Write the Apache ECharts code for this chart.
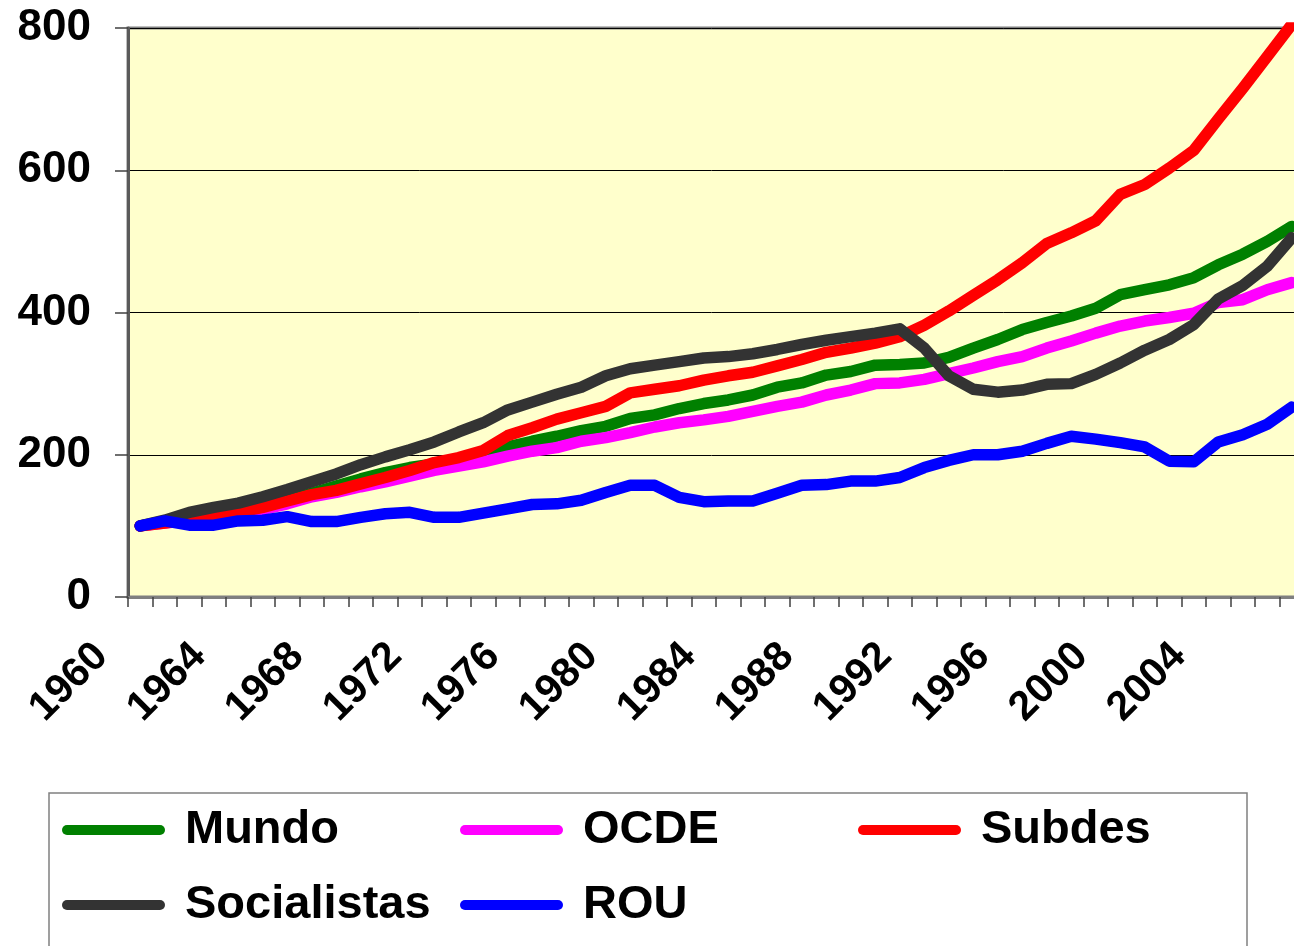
<!DOCTYPE html>
<html>
<head>
<meta charset="utf-8">
<title>Mundo, OCDE, Subdes, Socialistas, ROU</title>
<script src="https://cdn.jsdelivr.net/npm/echarts@6/dist/echarts.min.js"></script>
<style>
  html, body { margin: 0; padding: 0; background: #fff; }
  #chart { width: 1294px; height: 946px; }
</style>
</head>
<body>
<div id="chart"></div>
<script>
// indice, 1960 = 100
const years = [
  '1960', '1961', '1962', '1963', '1964', '1965', '1966', '1967', '1968', '1969',
  '1970', '1971', '1972', '1973', '1974', '1975', '1976', '1977', '1978', '1979',
  '1980', '1981', '1982', '1983', '1984', '1985', '1986', '1987', '1988', '1989',
  '1990', '1991', '1992', '1993', '1994', '1995', '1996', '1997', '1998', '1999',
  '2000', '2001', '2002', '2003', '2004', '2005', '2006', '2007'
];
const mundo = [
  100, 105, 110, 115, 121, 128, 136, 146, 156, 166,
  175, 182, 187, 194, 201, 211, 219, 226, 234, 240,
  251, 256, 265, 272, 277, 284, 295, 301, 312, 317,
  326, 327, 329, 337, 350, 362, 376, 386, 395, 406,
  425, 432, 439, 449, 467, 482, 500, 521
];
const ocde = [
  100, 104, 108, 112, 117, 123, 131, 141, 147, 155,
  162, 170, 178, 184, 190, 198, 205, 210, 219, 224,
  231, 239, 245, 249, 254, 261, 268, 274, 284, 291,
  300, 301, 306, 314, 322, 331, 338, 350, 360, 371,
  381, 388, 393, 399, 414, 418, 432, 442
];
const subdes = [
  100, 104, 109, 113, 119, 126, 135, 144, 150, 159,
  168, 178, 189, 196, 206, 227, 238, 250, 259, 268,
  287, 292, 297, 305, 311, 316, 325, 334, 344, 350,
  357, 366, 382, 402, 424, 446, 470, 497, 512, 529,
  566, 580, 603, 628, 672, 715, 760, 805
];
const socialistas = [
  100, 108, 119, 126, 132, 141, 151, 162, 173, 186,
  197, 207, 218, 232, 245, 263, 274, 285, 295, 311,
  321, 326, 331, 336, 338, 342, 348, 355, 361, 366,
  371, 377, 350, 311, 292, 288, 291, 299, 300, 313,
  329, 347, 362, 383, 419, 438, 465, 505
];
const rou = [
  100, 107, 101, 101, 107, 108, 113, 106, 106, 112,
  117, 119, 112, 112, 118, 124, 130, 131, 136, 147,
  157, 157, 140, 134, 135, 135, 146, 157, 158, 163,
  163, 168, 182, 192, 200, 200, 205, 216, 226, 222,
  217, 211, 191, 190, 218, 228, 243, 267
];

const font = '"Liberation Sans", Arial, sans-serif';
// barra redondeada para la leyenda
const legendIcon = 'path://M5,0 L98,0 A5,5 0 0 1 98,10 L5,10 A5,5 0 0 1 5,0 Z';

function lineSeries(name, data, color) {
  return {
    name: name,
    type: 'line',
    data: data,
    symbol: 'none',
    showSymbol: false,
    itemStyle: { color: color },
    lineStyle: { color: color, width: 11.5, cap: 'round', join: 'round' },
    emphasis: { disabled: true }
  };
}

const chart = echarts.init(document.getElementById('chart'));
chart.setOption({
  animation: false,
  grid: {
    left: 128,
    top: 28,
    width: 1176,
    height: 569,
    outerBoundsMode: 'none',
    show: true,
    backgroundColor: '#FFFFCC',
    borderColor: '#808080',
    borderWidth: 3
  },
  legend: {
    left: 49,
    top: 793,
    width: 1185,
    padding: [12, 16, 60, 13],
    itemGap: 25,
    itemWidth: 103,
    itemHeight: 10,
    icon: legendIcon,
    selectedMode: false,
    borderColor: '#808080',
    borderWidth: 1.5,
    textStyle: {
      color: '#000',
      fontFamily: font,
      fontSize: 47,
      fontWeight: 'bold',
      lineHeight: 50,
      width: 250,
      padding: [0, 0, 0, 15]
    },
    data: ['Mundo', 'OCDE', 'Subdes', 'Socialistas', 'ROU']
  },
  xAxis: {
    type: 'category',
    data: years,
    boundaryGap: true,
    axisLine: { lineStyle: { color: '#808080', width: 3 } },
    axisTick: { show: true, interval: 0, length: 10, lineStyle: { color: '#404040', width: 1.5 } },
    axisLabel: {
      interval: 3,
      rotate: 45,
      margin: 14,
      padding: [0, 55, 0, 0],
      color: '#000',
      fontFamily: font,
      fontSize: 41,
      fontWeight: 'bold'
    },
    splitLine: { show: false }
  },
  yAxis: {
    type: 'value',
    min: 0,
    max: 800,
    interval: 200,
    axisLine: { show: true, lineStyle: { color: '#5a5a5a', width: 3 } },
    axisTick: { show: true, length: 13, lineStyle: { color: '#404040', width: 1.5 } },
    axisLabel: {
      margin: 37,
      color: '#000',
      fontFamily: font,
      fontSize: 44,
      fontWeight: 'bold'
    },
    splitLine: { lineStyle: { color: '#000', width: 1 } }
  },
  series: [
    lineSeries('Mundo', mundo, '#008000'),
    lineSeries('OCDE', ocde, '#FF00FF'),
    lineSeries('Subdes', subdes, '#FF0000'),
    lineSeries('Socialistas', socialistas, '#333333'),
    lineSeries('ROU', rou, '#0000FF')
  ]
});
</script>
</body>
</html>
